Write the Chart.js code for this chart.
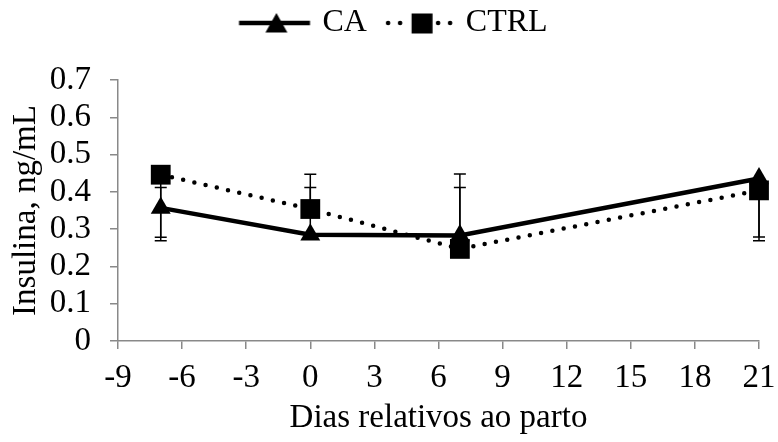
<!DOCTYPE html>
<html><head><meta charset="utf-8">
<script src="https://cdn.jsdelivr.net/npm/chart.js@4.4.1/dist/chart.umd.min.js"></script>
<style>html,body{margin:0;padding:0;background:#fff;}canvas{display:block;}</style>
</head><body>
<canvas id="c" width="778" height="442"></canvas>
<script>
// ---- data ----
const days = [-7, 0, 7, 21];
const caValues = [0.357, 0.285, 0.283, 0.436];
const ctrlValues = [0.446, 0.354, 0.247, 0.404];
// error bar end points (null = no bar in that direction)
const caErrLow = [0.278, null, null, 0.279];
const caErrHigh = [0.412, 0.412, 0.412, null];
const ctrlErrLow = [0.269, null, null, 0.269];
const ctrlErrHigh = [null, 0.447, 0.448, null];
const xTickLabels = ['-9', '-6', '-3', '0', '3', '6', '9', '12', '15', '18', '21'];
const yTickLabels = ['0', '0.1', '0.2', '0.3', '0.4', '0.5', '0.6', '0.7'];
const seriesNames = ['CA', 'CTRL'];
const xTitle = 'Dias relativos ao parto';
const yTitle = 'Insulina, ng/mL';

const FONT = "'Liberation Serif', 'Times New Roman', serif";
const AXIS = '#898989';
Chart.defaults.font.family = FONT;
Chart.defaults.font.size = 33;
Chart.defaults.color = '#000';

// legend samples (line + marker), positions relative to the legend box centre
function makeSample(kind, parts) {
  const half = 46, h = 28;
  const c = document.createElement('canvas');
  c.width = half * 2; c.height = h;
  const g = c.getContext('2d');
  const cx = half, cy = h / 2;
  g.fillStyle = '#000'; g.strokeStyle = '#000';
  if (kind === 'solid') {
    g.lineWidth = 4.5;
    g.beginPath(); g.moveTo(cx + parts.from, cy); g.lineTo(cx + parts.to, cy); g.stroke();
    const tx = cx + parts.marker;
    g.beginPath();
    g.moveTo(tx, cy - 10); g.lineTo(tx + 11, cy + 9.5); g.lineTo(tx - 11, cy + 9.5);
    g.closePath(); g.fill();
  } else {
    parts.dots.forEach(d => { g.beginPath(); g.arc(cx + d, cy, 2.3, 0, Math.PI * 2); g.fill(); });
    const sx = cx + parts.marker;
    g.fillRect(sx - 10.5, cy - 9.5, 21, 20);
  }
  return c;
}
const sampleCA = makeSample('solid', {from: -29.4, to: 41.6, marker: 8});
const sampleCTRL = makeSample('dots', {dots: [-23.8, -11.8, 26.2, 38.2], marker: 10.2});

const errorBars = {
  id: 'errorBars',
  beforeDatasetsDraw(chart) {
    const {ctx} = chart;
    const x = chart.scales.x, y = chart.scales.y;
    const sets = [[caValues, caErrLow, caErrHigh], [ctrlValues, ctrlErrLow, ctrlErrHigh]];
    ctx.save();
    ctx.strokeStyle = '#000';
    ctx.lineWidth = 1.5;
    sets.forEach(([vals, lo, hi]) => {
      days.forEach((d, i) => {
        const px = x.getPixelForValue(d);
        const py = y.getPixelForValue(vals[i]);
        [lo[i], hi[i]].forEach(e => {
          if (e === null || e === undefined) return;
          const pe = y.getPixelForValue(e);
          ctx.beginPath();
          ctx.moveTo(px, py); ctx.lineTo(px, pe);
          ctx.moveTo(px - 6, pe); ctx.lineTo(px + 6, pe);
          ctx.stroke();
        });
      });
    });
    ctx.restore();
  }
};

const legendHeight = {
  id: 'legendHeight',
  beforeLayout(chart) {
    const lg = chart.legend;
    if (!lg || lg._fixedFit) return;
    const orig = lg.fit.bind(lg);
    lg.fit = function () { orig(); this.height = 80; };
    lg._fixedFit = true;
  }
};

new Chart(document.getElementById('c'), {
  type: 'line',
  data: {
    datasets: [
      {
        label: seriesNames[0],
        data: days.map((d, i) => ({x: d, y: caValues[i]})),
        borderColor: '#000', backgroundColor: '#000',
        borderWidth: 4.5,
        pointStyle: 'triangle', pointRadius: 11.5, pointBorderWidth: 0,
        pointBackgroundColor: '#000',
        clip: false, order: 1
      },
      {
        label: seriesNames[1],
        data: days.map((d, i) => ({x: d, y: ctrlValues[i]})),
        borderColor: '#000', backgroundColor: '#000',
        borderWidth: 4.5, borderDash: [0, 11.5], borderCapStyle: 'round',
        pointStyle: 'rect', pointRadius: 14, pointBorderWidth: 0,
        pointBackgroundColor: '#000',
        clip: false, order: 0
      }
    ]
  },
  options: {
    responsive: false,
    animation: false,
    events: [],
    layout: {padding: 0},
    plugins: {
      tooltip: {enabled: false},
      legend: {
        position: 'top',
        labels: {
          usePointStyle: true,
          pointStyleWidth: 76,
          padding: 7,
          color: '#000',
          font: {family: FONT, size: 32},
          sort: (a, b) => a.datasetIndex - b.datasetIndex,
          generateLabels(chart) {
            const items = Chart.defaults.plugins.legend.labels.generateLabels(chart);
            items.forEach(it => { it.pointStyle = it.datasetIndex === 0 ? sampleCA : sampleCTRL; });
            return items;
          }
        }
      }
    },
    scales: {
      x: {
        type: 'linear', min: -9, max: 21,
        afterBuildTicks: s => { s.ticks = xTickLabels.map(l => ({value: Number(l)})); },
        ticks: {
          callback: (v) => xTickLabels.find(l => Number(l) === v) ?? '',
          font: {family: FONT, size: 33}, color: '#000', padding: 10, maxRotation: 0, autoSkip: false
        },
        grid: {display: true, drawOnChartArea: false, drawTicks: true, tickLength: 8, color: AXIS, lineWidth: 1.5},
        border: {display: true, color: AXIS, width: 1.5},
        title: {display: true, text: xTitle, font: {family: FONT, size: 33}, color: '#000', padding: {top: 0, bottom: 4}},
        afterFit: s => { s.height = 101; s.paddingLeft = 0; s.paddingRight = 0; }
      },
      y: {
        type: 'linear', min: 0, max: 0.7, position: 'left',
        afterBuildTicks: s => { s.ticks = yTickLabels.map(l => ({value: Number(l)})); },
        ticks: {
          callback: (v) => yTickLabels.find(l => Math.abs(Number(l) - v) < 1e-9) ?? '',
          font: {family: FONT, size: 33}, color: '#000', padding: 19, autoSkip: false
        },
        grid: {display: true, drawOnChartArea: false, drawTicks: true, tickLength: 8, color: AXIS, lineWidth: 1.5},
        border: {display: true, color: AXIS, width: 1.5},
        title: {display: true, text: yTitle, font: {family: FONT, size: 33}, color: '#000', padding: {top: 7, bottom: 0}},
        afterFit: s => { s.width = 118; }
      },
      yRight: {
        type: 'linear', position: 'right', display: true,
        grid: {display: false}, ticks: {display: false}, border: {display: false},
        afterFit: s => { s.width = 19; }
      }
    }
  },
  plugins: [errorBars, legendHeight]
});
</script>
</body></html>
